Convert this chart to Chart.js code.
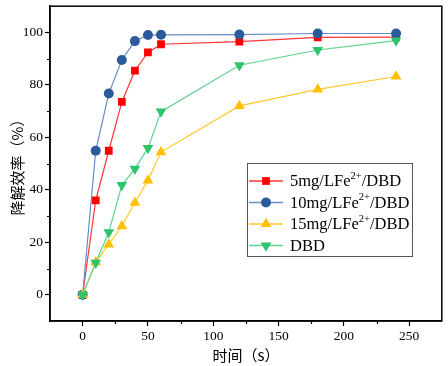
<!DOCTYPE html>
<html>
<head>
<meta charset="utf-8">
<script src="https://cdn.jsdelivr.net/npm/chart.js@4"></script>
<style>
  html, body { margin: 0; padding: 0; background: #fff; }
  #wrap { width: 448px; height: 366px; }
</style>
</head>
<body>
<div id="wrap"><canvas id="chart" width="448" height="366"></canvas></div>
<script>
// Data
const times = [0, 10, 20, 30, 40, 50, 60, 120, 180, 240];
const fe5 = [0, 36.0, 54.9, 73.5, 85.4, 92.4, 95.5, 96.5, 98.1, 98.2];
const fe10 = [0, 54.9, 76.7, 89.5, 96.7, 99.0, 99.1, 99.2, 99.6, 99.6];
const fe15 = [0, 12.4, 19.2, 26.2, 35.1, 43.6, 54.4, 72.0, 78.3, 83.2];
const dbd = [0, 12.2, 23.8, 41.8, 48.0, 55.9, 69.8, 87.5, 93.3, 96.9];

const xTicks = [0, 50, 100, 150, 200, 250];
const xMinor = [25, 75, 125, 175, 225];
const yTicks = [0, 20, 40, 60, 80, 100];
const yMinor = [10, 30, 50, 70, 90];

// legend labels: [before superscript, superscript, after]
const legendLabels = [
    ["5mg/LFe", "2+", "/DBD"],
    ["10mg/LFe", "2+", "/DBD"],
    ["15mg/LFe", "2+", "/DBD"],
    ["DBD", "", ""]
];

const serif = "'Liberation Serif', 'Times New Roman', serif";
const cjk = "'Noto Sans CJK SC', sans-serif";

function pts(ys) {
    return times.map((t, i) => ({ x: t, y: ys[i] }));
}

const styles = [
    { line: "rgba(255,30,30,0.9)", fill: "#ff0000", shape: "rect", r: 5.5, rot: 0 },
    { line: "#6a8bc4", fill: "#2b5b9b", shape: "circle", r: 5, rot: 0 },
    { line: "#ffc82a", fill: "#ffc000", shape: "triangle", r: 6.2, rot: 0 },
    { line: "#5cd48c", fill: "#2ec46b", shape: "triangle", r: 6.2, rot: 180 }
];
const series = [fe5, fe10, fe15, dbd];
const drawOrder = [3, 2, 1, 0];

const datasets = series.map((s, i) => ({
    data: pts(s),
    borderColor: styles[i].line,
    borderWidth: 1.2,
    backgroundColor: styles[i].fill,
    pointBackgroundColor: styles[i].fill,
    pointBorderColor: styles[i].fill,
    pointBorderWidth: 0,
    pointStyle: styles[i].shape,
    pointRadius: styles[i].r,
    pointRotation: styles[i].rot,
    pointHoverRadius: styles[i].r,
    tension: 0,
    fill: false,
    order: drawOrder[i]
}));

function drawMarker(ctx, st, x, y) {
    ctx.save();
    ctx.fillStyle = st.fill;
    ctx.beginPath();
    if (st.shape === "rect") {
        const h = st.r * Math.SQRT1_2;
        ctx.rect(x - h, y - h, 2 * h, 2 * h);
    } else if (st.shape === "circle") {
        ctx.arc(x, y, st.r, 0, Math.PI * 2);
    } else {
        const a0 = st.rot * Math.PI / 180;
        for (let k = 0; k < 3; k++) {
            const a = a0 + k * 2 * Math.PI / 3;
            const px = x + Math.sin(a) * st.r;
            const py = y - Math.cos(a) * st.r;
            if (k === 0) ctx.moveTo(px, py); else ctx.lineTo(px, py);
        }
        ctx.closePath();
    }
    ctx.fill();
    ctx.restore();
}

// frame, minor ticks and legend box
const decorations = {
    id: "decorations",
    afterDraw(chart) {
        const ctx = chart.ctx;
        const area = chart.chartArea;
        const xs = chart.scales.x, ys = chart.scales.y;
        ctx.save();
        ctx.strokeStyle = "#000";
        ctx.lineWidth = 1.5;
        ctx.strokeRect(area.left, area.top, area.right - area.left, area.bottom - area.top);

        // minor ticks
        ctx.lineWidth = 1.2;
        ctx.beginPath();
        xMinor.forEach(v => {
            const px = Math.round(xs.getPixelForValue(v)) + 0.5;
            ctx.moveTo(px, area.bottom);
            ctx.lineTo(px, area.bottom + 3);
        });
        yMinor.forEach(v => {
            const py = Math.round(ys.getPixelForValue(v)) + 0.5;
            ctx.moveTo(area.left, py);
            ctx.lineTo(area.left - 3, py);
        });
        ctx.stroke();

        // legend
        const lx = area.left + 197, ly = 163, lw = 165, lh = 93;
        ctx.fillStyle = "#fff";
        ctx.fillRect(lx, ly, lw, lh);
        ctx.strokeStyle = "#555";
        ctx.lineWidth = 1;
        ctx.strokeRect(lx + 0.5, ly + 0.5, lw, lh);
        legendLabels.forEach((lab, i) => {
            const st = styles[i];
            const cy = ly + 18 + i * 21.5;
            ctx.strokeStyle = st.line;
            ctx.lineWidth = 1.5;
            ctx.beginPath();
            ctx.moveTo(lx + 2, cy);
            ctx.lineTo(lx + 36, cy);
            ctx.stroke();
            drawMarker(ctx, st, lx + 19, cy);

            ctx.fillStyle = "#000";
            ctx.textBaseline = "middle";
            ctx.textAlign = "left";
            let tx = lx + 43;
            ctx.font = "16.5px " + serif;
            ctx.fillText(lab[0], tx, cy + 1);
            tx += ctx.measureText(lab[0]).width;
            if (lab[1]) {
                ctx.font = "10.5px " + serif;
                ctx.fillText(lab[1], tx, cy - 5);
                tx += ctx.measureText(lab[1]).width;
                ctx.font = "16.5px " + serif;
                ctx.fillText(lab[2], tx, cy + 1);
            }
        });
        ctx.restore();
    }
};

new Chart(document.getElementById("chart").getContext("2d"), {
    type: "line",
    data: { datasets: datasets },
    options: {
        responsive: false,
        animation: false,
        events: [],
        layout: { padding: { left: 0, right: 5, top: 0.5, bottom: 0 } },
        plugins: {
            legend: { display: false },
            tooltip: { enabled: false }
        },
        scales: {
            x: {
                type: "linear",
                min: -25,
                max: 275,
                afterBuildTicks: s => { s.ticks = xTicks.map(v => ({ value: v })); },
                afterFit: s => { s.height = 45; s.paddingLeft = 0; s.paddingRight = 0; },
                border: { display: true, color: "#000", width: 1.5 },
                grid: {
                    drawOnChartArea: false,
                    drawTicks: true,
                    tickLength: 5,
                    tickColor: "#000",
                    tickWidth: 1.2
                },
                ticks: {
                    color: "#000",
                    padding: 2,
                    font: { family: serif, size: 13.5 }
                },
                title: {
                    display: true,
                    text: "时间（s）",
                    color: "#000",
                    padding: { top: 0, bottom: 2 },
                    font: { family: cjk, size: 15 }
                }
            },
            y: {
                type: "linear",
                min: -10,
                max: 110,
                afterBuildTicks: s => { s.ticks = yTicks.map(v => ({ value: v })); },
                afterFit: s => { s.width = 50; s.paddingTop = 0; s.paddingBottom = 0; },
                border: { display: true, color: "#000", width: 1.5 },
                grid: {
                    drawOnChartArea: false,
                    drawTicks: true,
                    tickLength: 5,
                    tickColor: "#000",
                    tickWidth: 1.2
                },
                ticks: {
                    color: "#000",
                    padding: 2,
                    font: { family: serif, size: 13.5 }
                },
                title: {
                    display: true,
                    text: "降解效率（%）",
                    color: "#000",
                    padding: { top: 8, bottom: 0 },
                    font: { family: cjk, size: 15 }
                }
            }
        }
    },
    plugins: [decorations]
});
</script>
</body>
</html>
